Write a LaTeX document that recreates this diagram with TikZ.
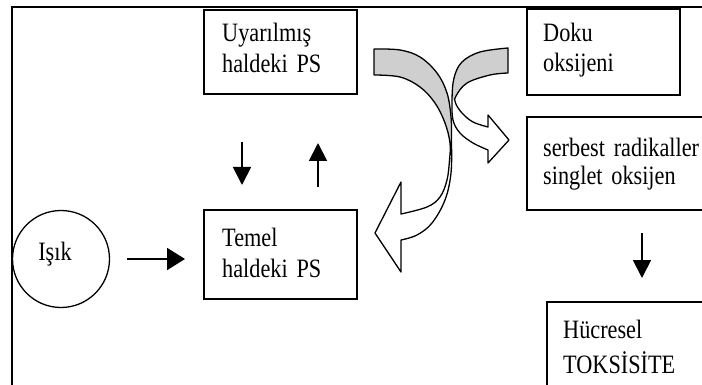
\documentclass[tikz,border=0pt]{standalone}
\usepackage{fontspec}
\setmainfont{Liberation Serif}[FakeStretch=0.84]
\usetikzlibrary{arrows.meta,calc}

% outlines of the two twisted ribbon arrows
\def\ribbonleft{plot[smooth, tension=0.6] coordinates {(374,49) (400,50) (420,57) (437,73) (447,93) (451,117) (451.5,140) (451,173) (445,200) (432,223) (417,235) (401,240)}
  -- (401,272) -- (375,233) -- (401,182) -- (401,214)
  -- plot[smooth, tension=0.6] coordinates {(401,214) (427,207) (440,197) (447,180) (449.5,160) (450,143) (445,123) (435,103) (420,87) (400,77) (374,75)} -- cycle}
\def\ribbonright{plot[smooth, tension=0.6] coordinates {(508,48) (480,52) (462,62) (454,78) (452,100) (453,120) (460,133) (473,143) (488,150)}
  -- (488,163) -- (509,140) -- (488,115) -- (488,127)
  -- plot[smooth, tension=0.6] coordinates {(488,127) (473,122) (462,113) (455.5,103) (456,96) (467,83) (490,75) (508,73)} -- cycle}

\begin{document}
\begin{tikzpicture}[x=1pt,y=-1pt,
  frameline/.style={line width=2pt},
  box/.style={draw, line width=1.4pt, rectangle, anchor=north west, inner sep=0pt, outer sep=0pt},
  txt/.style={anchor=base west, inner sep=0pt, text width=175pt, align=left},
  arr/.style={line width=1.8pt, -{Triangle[length=18pt,width=18pt]}},
  ribbonline/.style={draw, line width=1.3pt, line join=round},
  ribbonback/.style={fill=black!19},
]
\useasboundingbox (0,0) rectangle (702,385);
\clip (0,0) rectangle (702,385);

% outer frame (only top and left sides show)
\draw[frameline] (12,395) -- (12,7) -- (712,7);

% boxes
\node[box, minimum width=153pt, minimum height=84pt] (upa) at (204,10) {};
\node[box, minimum width=153pt, minimum height=89pt] (temel) at (204,210) {};
\node[box, minimum width=153pt, minimum height=86pt] (doku) at (527,9) {};
\node[box, minimum width=200pt, minimum height=93pt] (serb) at (527,117) {};
\node[box, minimum width=200pt, minimum height=100pt] (hucre) at (547,302) {};
\node[draw, circle, line width=1.3pt, minimum size=97pt, inner sep=0pt, outer sep=0pt] (isik) at (61,259) {};

% texts
\node[txt, font=\fontsize{26.5}{31}\selectfont] (upatxt) at (222,42) {Uyarılmış\\haldeki PS};
\node[txt, font=\fontsize{26.5}{31}\selectfont] (temeltxt) at (222,247) {Temel\\haldeki PS};
\node[txt, font=\fontsize{26.5}{30}\selectfont] (dokutxt) at (543,42) {Doku\\oksijeni};
\node[txt, font=\fontsize{26.5}{27.5}\selectfont] (serbtxt) at (543,157) {serbest radikaller\\singlet oksijen};
\node[txt, font=\fontsize{26.5}{35}\selectfont] (hucretxt) at (563,338) {Hücresel\\TOKSİSİTE};
\node[anchor=base, inner sep=0pt, font=\fontsize{26.5}{31}\selectfont] (isiktxt) at (55,260) {Işık};

% straight connectors
\draw[arr, -{Triangle[length=18pt,width=22pt]}, shorten <=17.5pt, shorten >=19pt] (isik.east) -- (isik.east -| temel.west);
\draw[arr, shorten <=48pt, shorten >=25pt] ($(upa.south west)+(38,0)$) -- ($(temel.north west)+(38,0)$);
\draw[arr, shorten <=23pt, shorten >=49pt] ($(temel.north west)+(114,0)$) -- ($(upa.south west)+(114,0)$);
\draw[arr, shorten <=23pt, shorten >=24pt] ($(serb.south west)+(115,0)$) -- ($(hucre.north west)+(95,0)$);

% twisted ribbon arrows: white front face, grey back face
\fill[white] \ribbonleft;
\begin{scope}
  \clip (300,0) rectangle (520,142);
  \fill[ribbonback] \ribbonleft;
\end{scope}
\draw[ribbonline] \ribbonleft;

\fill[white] \ribbonright;
\begin{scope}
  \clip (300,0) rectangle (520,100);
  \fill[ribbonback] \ribbonright;
\end{scope}
\draw[ribbonline] \ribbonright;
\end{tikzpicture}
\end{document}
